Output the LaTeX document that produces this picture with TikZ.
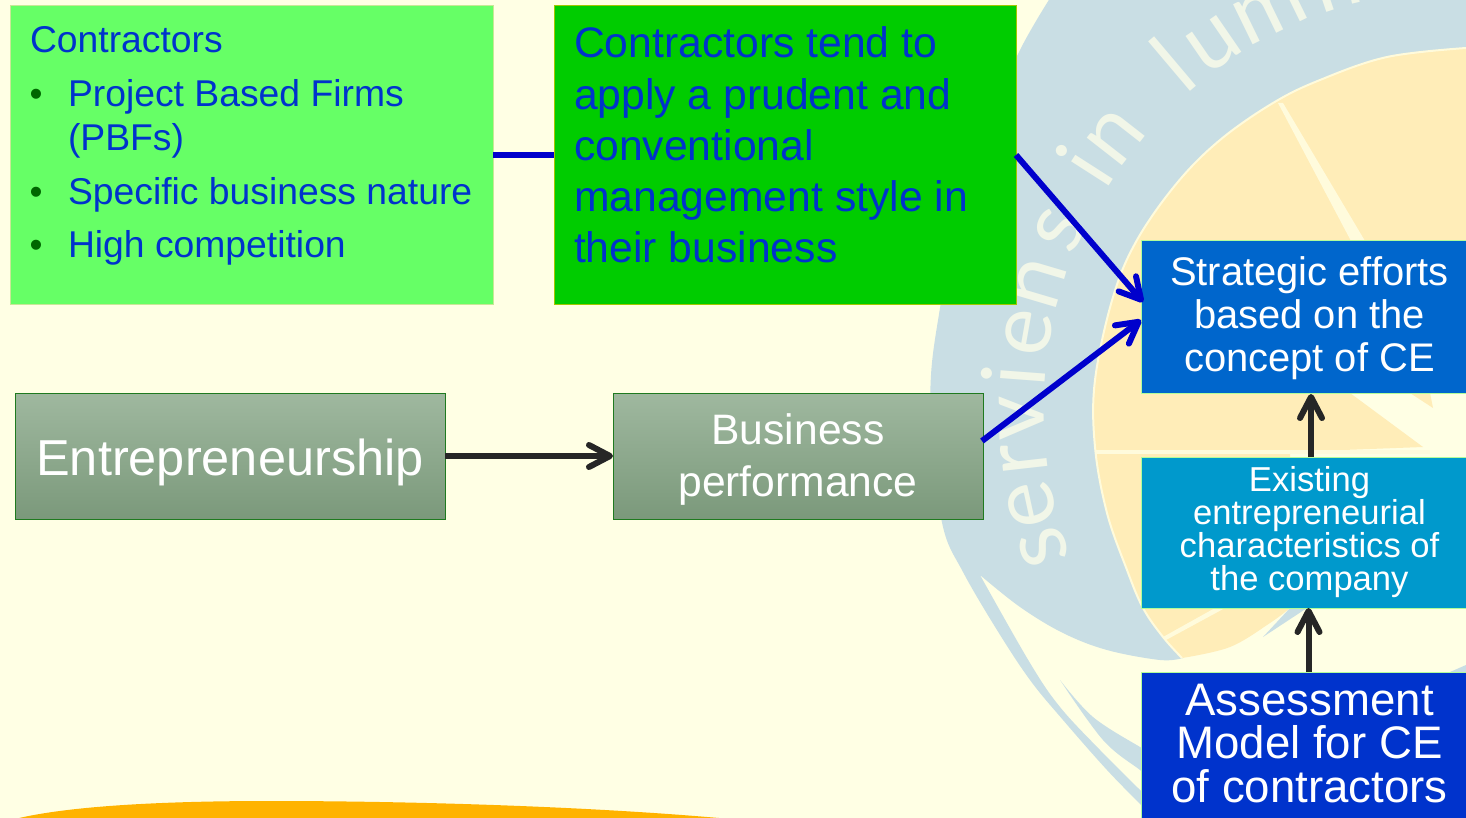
\documentclass[tikz,border=0pt]{standalone}
\usepackage{fontspec}
\setmainfont{Liberation Sans}
\newfontfamily\mottofont{Lato}
\usetikzlibrary{arrows.meta}
\definecolor{bgc}{HTML}{FFFFE4}
\definecolor{ringc}{HTML}{C9DEE4}
\definecolor{sandc}{HTML}{FFEDB8}
\definecolor{edgec}{HTML}{FFFBDC}
\definecolor{mottoc}{HTML}{F1F6E8}
\definecolor{txtblue}{HTML}{0033CC}
\definecolor{lineblue}{HTML}{0000CC}
\definecolor{dark}{HTML}{262626}
\definecolor{gray1}{HTML}{9FB89F}
\definecolor{gray2}{HTML}{7B997B}
\definecolor{grayedge}{HTML}{1F7A1F}
\tikzset{
  x=1pt,y=-1pt,
  boxn/.style={rectangle,inner sep=0pt,outer sep=0pt,line width=1pt},
  graybox/.style={boxn,draw=grayedge,top color=gray1,bottom color=gray2},
  bluebox/.style={boxn,draw=edgec!70!green},
  txt/.style={inner sep=0pt,outer sep=0pt},
  bline/.style={txt,anchor=base west,text=txtblue,font=\fontsize{37.3}{44}\selectfont},
  bull/.style={txt,anchor=base,text=green!40!black,font=\fontsize{37}{44}\selectfont},
  ctr/.style={txt,align=center,text=white},
  bluearrow/.style={line width=6pt,draw=lineblue,-{Straight Barb[length=21pt,width=23pt,line width=6pt,round]}},
  darkarrow/.style={line width=6pt,draw=dark,-{Straight Barb[length=21pt,width=22pt,line width=6pt,round]}},
}
\newcommand{\mottoletter}[3]{%
  \node[txt,anchor=base,text=mottoc,rotate={270-#2},font=\mottofont\fontsize{88}{88}\selectfont] (#3)
    at ({1465+421*cos(#2)},{410+421*sin(#2)}) {#1};}
\begin{document}
\begin{tikzpicture}
\useasboundingbox (0,0) rectangle (1466,818);
\clip (0,0) rectangle (1466,818);
\fill[bgc] (0,0) rectangle (1466,818);
% orange band
\fill[fill={rgb,255:red,255;green,179;blue,0}] (15,819) .. controls (80,803) and (200,801) .. (270,801) .. controls (420,801) and (600,807) .. (730,819) -- cycle;
% logo ring
\fill[ringc] plot[smooth,tension=0.6] coordinates {(1052,-5) (1020,50) (985,130) (955,225) (940,308) (931,375) (932,443) (943,527) (963,572) (997,630) (1030,680) (1063,720) (1107,770) (1143,807) (1155,820)}
  -- plot[smooth,tension=0.6] coordinates {(1155,805) (1140,790) (1100,750) (1060,707) (1030,663) (980,575)}
  -- plot[smooth,tension=0.6] coordinates {(980,575) (1020,607) (1063,633) (1107,650) (1160,660) (1183,658)}
  -- (1200,500) -- (1200,200) -- (1466,100) -- (1466,-5) -- cycle;
\fill[ringc] plot[smooth,tension=0.6] coordinates {(1060,680) (1093,717) (1140,747) (1150,752)}
  -- plot[smooth,tension=0.6] coordinates {(1150,778) (1140,770) (1103,740) (1060,680)} -- cycle;
\fill[ringc] (1263,637) -- (1290,608) -- (1307,608) -- cycle;
\fill[ringc] (1450,672) -- (1466,665) -- (1466,672) -- cycle;
% logo sand
\fill[sandc] plot[smooth,tension=0.6] coordinates {(1466,48) (1387,57) (1320,80) (1273,103) (1220,140) (1177,183) (1137,240) (1113,297) (1095,380) (1095,447) (1107,513) (1127,570) (1143,608) (1163,637) (1182,658)}
  -- plot[smooth,tension=0.6] coordinates {(1182,658) (1230,647) (1270,623) (1290,608)}
  -- (1290,452) -- (1423,447) -- (1350,393) -- (1400,300) -- (1466,241) -- cycle;
\fill[sandc] (1410,393) -- (1433,408) -- (1430,393) -- cycle;
\draw[edgec,line width=2pt] plot[smooth,tension=0.6] coordinates {(1466,48) (1387,57) (1320,80) (1273,103) (1220,140) (1177,183) (1137,240) (1113,297) (1095,380) (1095,447) (1107,513) (1127,570) (1143,608) (1163,637) (1182,658)};
\fill[edgec] (1278,103) -- (1283,103) -- (1365,241) -- (1351,241) -- cycle;
\fill[edgec] (1095,450) rectangle (1430,454);
\fill[edgec] (1163,637) -- (1215,608) -- (1225,608) -- (1166,640) -- cycle;
% motto
\mottoletter{s}{162}{m1}
\mottoletter{e}{167.7}{m2}
\mottoletter{r}{173.6}{m3}
\mottoletter{v}{179}{m4}
\mottoletter{i}{184.3}{m5}
\mottoletter{e}{190}{m6}
\mottoletter{n}{196.5}{m7}
\mottoletter{s}{204}{m8}
\mottoletter{i}{212.7}{m9}
\mottoletter{n}{218}{m10}
\mottoletter{l}{229.8}{m11}
\mottoletter{u}{235.5}{m12}
\mottoletter{m}{244}{m13}
\mottoletter{i}{251.4}{m14}
\mottoletter{n}{257}{m15}
\mottoletter{e}{265}{m16}
% boxes
\node[boxn,draw={rgb,255:red,200;green,232;blue,150},fill={rgb,255:red,102;green,255;blue,102},minimum width=483pt,minimum height=298pt] (b1) at (251.6,155) {};
\node[boxn,draw={rgb,255:red,160;green,200;blue,0},fill={rgb,255:red,0;green,204;blue,0},minimum width=462pt,minimum height=298pt] (b2) at (785,155) {};
\node[graybox,minimum width=430pt,minimum height=126pt] (b3) at (230,456) {};
\node[graybox,minimum width=370pt,minimum height=126pt] (b4) at (798,456) {};
\node[bluebox,fill={rgb,255:red,0;green,102;blue,204},minimum width=334pt,minimum height=152pt] (b5) at (1308.5,317) {};
\node[bluebox,fill={rgb,255:red,0;green,153;blue,204},minimum width=334pt,minimum height=151pt] (b6) at (1308.5,532.5) {};
\node[bluebox,fill={rgb,255:red,0;green,51;blue,204},minimum width=334pt,minimum height=146pt] (b7) at (1308.5,745) {};
% connector ends
\coordinate (t1) at (1143,302);
\coordinate (t2) at (1141,320);
\coordinate (s4) at (982,441);
\coordinate (u1) at (1311,457);
\coordinate (u2) at (1311,394);
% connectors
\draw[line width=6pt,draw=lineblue] (b1.east) -- (b2.west);
\draw[bluearrow] (b2.east) -- (t1);
\draw[bluearrow] (s4) -- (t2);
\draw[darkarrow] (b3.east) -- (b4.west);
\draw[darkarrow] (u1) -- (u2);
\draw[darkarrow] (b7.north) -- (b6.south);
% box 1 text
\node[bline] (l1) at (30,53) {Contractors};
\node[bull] (d1) at (36,107) {•};
\node[bline] (l2) at (68,107) {Project Based Firms};
\node[bline] (l3) at (68,151) {(PBFs)};
\node[bull] (d2) at (36,205) {•};
\node[bline] (l4) at (68,205) {Specific business nature};
\node[bull] (d3) at (36,258) {•};
\node[bline] (l5) at (68,258) {High competition};
% box 2 text
\node[txt,anchor=north west,align=left,text=txtblue,font=\fontsize{42.7}{51.2}\selectfont] (tb2) at (574,27) {Contractors tend to\\apply a prudent and\\conventional\\management style in\\their business};
% other text
\node[ctr,font=\fontsize{50.5}{60}\selectfont] (tb3) at (230,462) {Entrepreneurship};
\node[ctr,font=\fontsize{42.6}{52}\selectfont] (tb4) at (798,459) {Business\\performance};
\node[ctr,font=\fontsize{39.9}{43}\selectfont] (tb5) at (1309.5,318) {Strategic efforts\\based on the\\concept of CE};
\node[ctr,font=\fontsize{34.6}{33}\selectfont] (tb6) at (1309.5,532.5) {Existing\\entrepreneurial\\characteristics of\\the company};
\node[ctr,font=\fontsize{45.6}{43.5}\selectfont] (tb7) at (1309.5,743.5) {Assessment\\Model for CE\\of contractors};
\end{tikzpicture}
\end{document}
